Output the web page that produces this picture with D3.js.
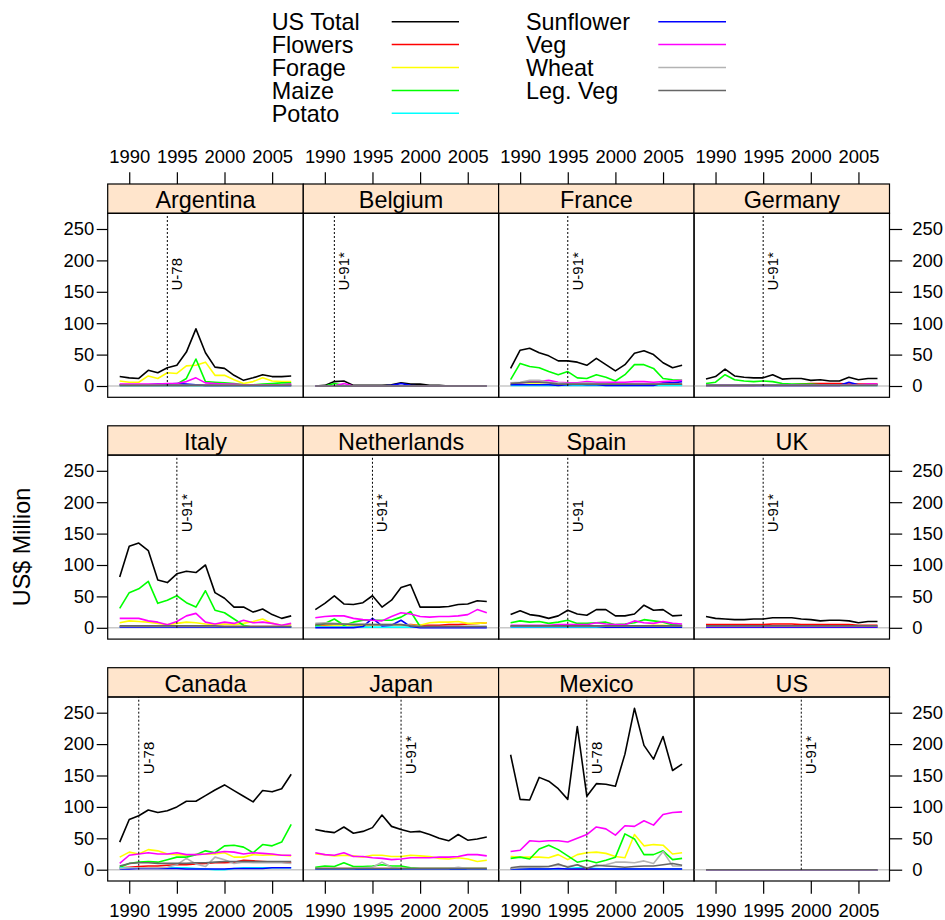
<!DOCTYPE html>
<html>
<head>
<meta charset="utf-8">
<script src="https://cdn.jsdelivr.net/npm/d3@7/dist/d3.min.js"></script>
<style>
html,body{margin:0;padding:0;background:#fff;}
svg{display:block;font-family:"Liberation Sans",Arial,Helvetica,sans-serif;}
</style>
</head>
<body>
<svg id="chart" width="945" height="920"></svg>
<script>
// ---------------- DATA ----------------
const years = [1989,1990,1991,1992,1993,1994,1995,1996,1997,1998,1999,2000,2001,2002,2003,2004,2005,2006,2007];
const seriesNames = ["US Total","Flowers","Forage","Maize","Potato","Sunflower","Veg","Wheat","Leg. Veg"];
const seriesColors = ["#000000","#ff0000","#ffff00","#00ff00","#00ffff","#0000ff","#ff00ff","#b3b3b3","#666666"];
const countries = ["Argentina","Belgium","France","Germany","Italy","Netherlands","Spain","UK","Canada","Japan","Mexico","US"];
const markerYears = [1994,1991,1995,1995,1995,1995,1995,1995,1991,1998,1997,1999];
const markerLabels = ["U-78","U-91*","U-91*","U-91*","U-91*","U-91*","U-91","U-91*","U-78","U-91*","U-78","U-91*"];
const yTicks = [0,50,100,150,200,250];
const xTicks = [1990,1995,2000,2005];

// each country: rows in seriesNames order
const argentina = [
  [15,13,12,25,21,29,33,54,91,53,30,28,17,9,13,18,15,15,16],
  [1,1,1,1,1,1,1,1,2,1,1,1,1,1,1,1,1,1,1],
  [8,6,6,16,12,21,20,32,33,38,17,17,10,4,7,13,8,7,7],
  [2,2,2,2,2,3,3,12,43,7,6,5,4,2,2,3,4,5,5],
  [0.5,0.5,0.5,0.5,0.5,0.5,0.5,0.5,0.5,0.5,0.5,0.5,0.5,0.5,0.5,0.5,0.5,0.5,0.5],
  [2,2,2,2,3,3,4,3,2,1,1,1,1,1,1,1,1,1,1],
  [3,3,3,3,3,4,4,7,13,5,4,3,3,2,2,2,2,2,3],
  [1,1,1,1,1,1,1,1,1,1,1,1,1,1,1,1,1,1,1],
  [1,1,1,1,1,1,1,1,1,1,1,1,1,1,1,1,1,1,1]
];
const belgium = [
  [0,1,7,8,1,1,1,1,2,5,3,3,1,1,0,0,0,0,0],
  [0,0,0,0,0,0,0,0,0,0,0,0,0,0,0,0,0,0,0],
  [0,0,0,0,0,0,0,0,0,0,0,0,0,0,0,0,0,0,0],
  [0,0,4,1,0,0,0,0,0,0,0,0,0,0,0,0,0,0,0],
  [0,0,0,0,0,0,0,0,0,0,0,0,0,0,0,0,0,0,0],
  [0,0,0,0,0,0,0,0,1,4,1,0,0,0,0,0,0,0,0],
  [0,0,0,4,0,0,0,0,0,0,0,0,0,0,0,0,0,0,0],
  [0,0,0,0,0,0,0,0,0,0,0,0,0,0,0,0,0,0,0],
  [0,0,0,0,0,0,0,0,0,0,0,0,0,0,0,0,0,0,0]
];
const france = [
  [28,57,60,53,48,40,40,38,33,44,34,24,34,52,56,50,37,29,33],
  [2,2,2,2,2,2,2,2,2,2,2,2,2,2,2,2,2,2,2],
  [2,2,3,3,2,1,2,2,2,2,2,2,2,2,2,2,2,3,3],
  [10,36,31,29,23,18,23,13,12,18,14,8,18,34,34,28,12,10,9],
  [1,1,1,1,1,1,1,1,1,1,1,1,1,1,1,1,1,1,1],
  [2,2,2,2,2,1,2,3,2,2,1,1,1,1,1,1,5,5,7],
  [5,5,7,7,9,6,5,5,7,6,6,6,6,7,7,6,7,8,9],
  [5,6,9,9,6,5,4,4,5,4,4,3,3,3,3,3,3,3,3],
  [4,5,6,6,5,3,3,3,3,3,3,3,3,3,3,3,3,3,3]
];
const germany = [
  [11,15,27,16,14,13,13,18,11,12,12,9,10,8,8,14,10,12,12],
  [1,1,1,1,1,1,2,2,2,2,3,4,4,4,4,3,3,3,3],
  [1,1,1,1,1,2,2,2,2,2,2,2,2,2,2,2,2,2,2],
  [4,6,18,10,8,7,8,7,4,3,3,3,2,2,2,2,2,2,2],
  [1,1,1,1,1,1,1,1,1,1,1,1,1,1,1,1,1,1,1],
  [1,1,1,1,1,1,1,1,1,1,1,1,1,1,1,6,2,2,2],
  [1,1,1,1,1,1,1,1,1,1,1,1,1,1,1,2,2,3,3],
  [1,1,1,1,1,1,1,1,1,1,1,1,1,1,1,1,1,1,1],
  [1,1,1,1,1,1,1,1,1,1,1,1,1,1,1,1,1,1,1]
];
const italy = [
  [81,130,135,123,76,72,86,90,88,100,56,47,33,33,25,30,21,15,19],
  [2,2,2,2,2,2,2,2,2,2,2,2,2,2,2,2,2,2,2],
  [8,11,10,9,7,5,7,9,8,6,5,6,5,7,10,14,7,4,5],
  [31,56,62,74,39,44,51,40,33,59,28,24,14,4,1,1,1,1,1],
  [1,1,1,1,1,1,1,1,1,1,1,1,1,1,1,1,1,1,1],
  [1,1,1,1,1,1,1,1,1,1,1,1,1,1,1,1,1,1,1],
  [15,15,15,11,9,5,10,19,23,9,6,9,7,12,8,9,7,4,7],
  [2,2,2,2,2,2,2,2,2,2,2,2,2,2,2,2,2,2,2],
  [3,3,3,3,3,3,3,3,3,3,3,2,2,2,2,2,2,2,2]
];
const netherlands = [
  [29,39,51,38,37,40,51,33,44,64,69,33,33,33,34,37,38,43,42],
  [3,3,3,3,3,3,4,4,4,4,5,4,4,4,5,5,6,7,8],
  [5,5,4,4,4,4,4,4,4,4,4,4,8,9,9,10,7,7,8],
  [3,7,14,4,9,12,12,12,12,17,26,2,1,1,1,1,1,1,1],
  [1,1,1,1,1,1,1,1,1,1,1,1,1,1,1,1,1,1,1],
  [0,0,0,0,0,2,15,3,4,12,2,0,0,0,0,0,0,0,0],
  [16,18,19,19,15,13,12,11,18,24,22,18,17,18,18,19,21,29,24],
  [7,8,7,6,6,6,5,5,5,5,4,2,2,2,2,2,2,2,2],
  [5,6,6,6,5,5,5,5,5,5,3,2,2,2,2,2,2,2,2]
];
const spain = [
  [21,27,21,19,15,19,28,22,20,29,29,19,19,22,36,28,29,19,20],
  [2,2,2,2,2,2,2,2,2,2,2,2,2,2,3,3,3,3,3],
  [2,2,2,2,2,2,2,2,2,2,2,2,2,2,3,4,4,3,3],
  [8,11,9,10,7,9,12,7,7,8,9,5,6,8,13,11,9,5,4],
  [1,1,1,1,1,1,1,1,1,1,1,1,1,1,1,1,1,1,1],
  [2,2,2,2,2,2,2,2,2,2,1,1,1,1,1,1,1,1,1],
  [4,4,4,4,4,5,5,5,5,8,6,5,5,11,8,7,10,7,6],
  [3,3,3,3,3,3,3,3,3,3,3,3,3,3,3,3,3,3,3],
  [3,3,3,3,3,3,3,3,3,3,3,3,3,3,3,3,3,3,3]
];
const uk = [
  [18,15,14,13,13,14,14,16,16,16,14,13,11,12,12,11,8,10,10],
  [5,5,5,5,5,5,5,6,6,6,5,5,5,5,5,5,4,4,4],
  [2,2,2,2,2,2,2,2,2,2,2,2,2,2,2,2,2,2,2],
  [2,2,2,2,2,2,2,2,2,2,2,2,2,2,2,2,2,2,2],
  [1,1,1,1,1,1,1,1,1,1,1,1,1,1,1,1,1,1,1],
  [1,1,1,1,1,1,1,1,1,1,1,1,1,1,1,1,1,1,1],
  [2,2,2,2,2,2,2,2,2,2,2,2,2,2,2,2,2,2,2],
  [3,3,3,3,3,3,3,3,3,3,3,3,3,3,3,3,3,3,3],
  [3,3,3,3,3,3,3,3,3,3,3,3,3,3,3,3,3,3,3]
];
const canada = [
  [44,80,86,95,91,94,100,109,109,118,127,135,126,117,108,126,124,129,152],
  [3,4,5,6,6,7,8,8,9,10,11,11,12,15,14,13,12,12,11],
  [20,28,25,32,30,25,24,23,24,25,25,27,20,20,24,23,24,23,22],
  [4,10,12,13,12,16,20,20,24,30,27,38,39,36,27,40,38,44,72],
  [3,3,3,3,3,3,3,3,2,1,0,0,2,3,3,3,3,3,3],
  [1,1,2,2,2,2,2,1,1,1,1,1,2,2,2,2,3,3,3],
  [10,23,25,27,25,25,27,24,24,25,27,29,28,25,27,26,25,23,23],
  [2,3,3,3,3,4,8,18,9,5,20,16,10,12,11,11,11,11,10],
  [6,10,11,11,10,10,10,10,11,11,12,13,13,13,13,13,13,13,13]
];
const japan = [
  [64,61,59,68,58,61,67,87,69,64,60,61,56,50,46,56,47,49,52],
  [2,2,2,2,2,2,2,2,2,2,2,2,2,2,2,2,2,2,2],
  [25,24,22,23,22,20,23,23,21,21,23,22,21,18,17,19,17,13,15],
  [4,6,5,11,5,5,6,8,6,6,3,2,2,2,2,2,2,2,2],
  [1,1,1,1,1,1,1,1,1,1,1,1,1,1,1,1,1,1,1],
  [1,1,1,1,1,1,1,1,1,1,1,1,1,1,1,1,1,1,1],
  [27,24,23,27,21,21,19,18,16,17,19,19,19,20,20,21,24,24,22],
  [2,2,2,2,2,3,4,12,4,2,2,2,2,2,2,4,2,2,2],
  [2,2,2,2,2,2,2,2,2,2,2,2,2,2,2,2,2,2,2]
];
const mexico = [
  [183,112,111,147,141,129,112,228,117,137,136,133,184,257,198,176,212,158,168],
  [1,1,1,1,1,1,1,1,1,1,1,1,1,1,1,1,1,1,1],
  [21,20,20,20,19,24,16,24,27,28,26,21,19,56,38,40,39,25,27],
  [18,20,17,33,39,32,22,12,15,11,15,20,57,49,24,24,30,16,18],
  [1,1,1,1,1,1,2,3,3,2,1,1,1,1,1,1,1,1,1],
  [1,1,1,1,1,2,1,1,1,1,1,1,1,1,1,1,1,1,1],
  [29,31,46,45,46,46,44,50,56,68,65,55,70,69,78,71,88,91,92],
  [2,3,4,4,5,7,5,8,3,6,8,12,12,11,14,10,29,6,6],
  [3,5,5,5,5,9,4,8,2,7,6,5,4,5,6,6,8,10,7]
];
const us = [
  [0,0,0,0,0,0,0,0,0,0,0,0,0,0,0,0,0,0,0],
  [0,0,0,0,0,0,0,0,0,0,0,0,0,0,0,0,0,0,0],
  [0,0,0,0,0,0,0,0,0,0,0,0,0,0,0,0,0,0,0],
  [0,0,0,0,0,0,0,0,0,0,0,0,0,0,0,0,0,0,0],
  [0,0,0,0,0,0,0,0,0,0,0,0,0,0,0,0,0,0,0],
  [0,0,0,0,0,0,0,0,0,0,0,0,0,0,0,0,0,0,0],
  [0,0,0,0,0,0,0,0,0,0,0,0,0,0,0,0,0,0,0],
  [0,0,0,0,0,0,0,0,0,0,0,0,0,0,0,0,0,0,0],
  [0,0,0,0,0,0,0,0,0,0,0,0,0,0,0,0,0,0,0]
];
const countryData = [argentina,belgium,france,germany,italy,netherlands,spain,uk,canada,japan,mexico,us];

// ---------------- LAYOUT ----------------
const svg = d3.select("#chart");
const FONT = 23.4, AXFONT = 18.4;
const colLeft = [107.7, 303.3, 498.6, 694.0];
const panelW = 195.5;
const stripTops = [184.0, 425.8, 667.7];
const stripH = 29.3;
const plotH = 184;

const xPad = 0.07*(d3.max(years)-d3.min(years));
const allVals = countryData.flat(2);
const yMin = d3.min(allVals), yMax = d3.max(allVals);
const yPad = 0.07*(yMax-yMin);

const line = (xs, ys) => d3.line().x((d,i)=>xs(years[i])).y(d=>ys(d));

countries.forEach((name, k) => {
  const col = k % 4, row = Math.floor(k/4);
  const x0 = colLeft[col];
  const sTop = stripTops[row];
  const pTop = sTop + stripH, pBot = pTop + plotH;
  const xs = d3.scaleLinear().domain([d3.min(years)-xPad, d3.max(years)+xPad]).range([x0, x0+panelW]);
  const ys = d3.scaleLinear().domain([yMin-yPad, yMax+yPad]).range([pBot, pTop]);
  const g = svg.append("g");

  // zero reference line
  g.append("line").attr("x1",x0).attr("x2",x0+panelW).attr("y1",ys(0)).attr("y2",ys(0))
    .attr("stroke","#c8c8c8").attr("stroke-width",1.6);

  // series
  countryData[k].forEach((vals, s) => {
    g.append("path").datum(vals).attr("d", line(xs, ys))
      .attr("fill","none").attr("stroke", seriesColors[s]).attr("stroke-width",1.6)
      .attr("stroke-linejoin","round");
  });

  // marker line
  const mx = xs(markerYears[k]);
  g.append("line").attr("x1",mx).attr("x2",mx).attr("y1",ys(0)).attr("y2",pTop)
    .attr("stroke","#000").attr("stroke-width",1).attr("stroke-dasharray","2,2");
  const ty = ys(152);
  g.append("text").attr("transform",`translate(${mx+15},${ty}) rotate(-90)`)
    .attr("font-size",15).attr("text-anchor","start").text(markerLabels[k]);

  // strip
  g.append("rect").attr("x",x0).attr("y",sTop).attr("width",panelW).attr("height",stripH)
    .attr("fill","#ffe5cc").attr("stroke","#000").attr("stroke-width",1.2);
  g.append("text").attr("x",x0+panelW/2).attr("y",sTop+24.3).attr("text-anchor","middle")
    .attr("font-size",FONT).text(name);

  // panel border
  g.append("rect").attr("x",x0).attr("y",pTop).attr("width",panelW).attr("height",plotH)
    .attr("fill","none").attr("stroke","#000").attr("stroke-width",1.2);

  // top x axis (row 0) and bottom x axis (row 2)
  if (row === 0) {
    const ax = g.append("g").attr("transform",`translate(0,${sTop})`)
      .call(d3.axisTop(xs).tickValues(xTicks).tickSize(11.7).tickPadding(9.5).tickFormat(d3.format("d")));
    ax.select(".domain").remove();
    ax.selectAll("line").attr("stroke-width",1.2);
    ax.selectAll("text").attr("font-size",AXFONT).attr("font-family",null);
  }
  if (row === 2) {
    const ax = g.append("g").attr("transform",`translate(0,${pBot})`)
      .call(d3.axisBottom(xs).tickValues(xTicks).tickSize(12.7).tickPadding(10).tickFormat(d3.format("d")));
    ax.select(".domain").remove();
    ax.selectAll("line").attr("stroke-width",1.2);
    ax.selectAll("text").attr("font-size",AXFONT).attr("font-family",null);
  }
  if (col === 0) {
    const ax = g.append("g").attr("transform",`translate(${x0},0)`)
      .call(d3.axisLeft(ys).tickValues(yTicks).tickSize(11).tickPadding(2.5));
    ax.select(".domain").remove();
    ax.selectAll("line").attr("stroke-width",1.2);
    ax.selectAll("text").attr("font-size",AXFONT).attr("font-family",null);
  }
  if (col === 3) {
    const ax = g.append("g").attr("transform",`translate(${x0+panelW},0)`)
      .call(d3.axisRight(ys).tickValues(yTicks).tickSize(12.7).tickPadding(10));
    ax.select(".domain").remove();
    ax.selectAll("line").attr("stroke-width",1.2);
    ax.selectAll("text").attr("font-size",AXFONT).attr("font-family",null);
  }
});

// y label
svg.append("text").attr("transform","translate(30,547) rotate(-90)")
  .attr("text-anchor","middle").attr("font-size",FONT).text("US$ Million");

// legend
const legX = [271.7, 526];
const legLineX = [[391.7,459],[658.3,726]];
const legY0 = 21.7, legDy = 22.9;
seriesNames.forEach((nm, i) => {
  const c = i < 5 ? 0 : 1, r = i < 5 ? i : i-5;
  const cy = legY0 + r*legDy;
  svg.append("text").attr("x",legX[c]).attr("y",cy+8.3).attr("font-size",FONT).text(nm);
  svg.append("line").attr("x1",legLineX[c][0]).attr("x2",legLineX[c][1]).attr("y1",cy).attr("y2",cy)
    .attr("stroke",seriesColors[i]).attr("stroke-width",1.5);
});
</script>
</body>
</html>
